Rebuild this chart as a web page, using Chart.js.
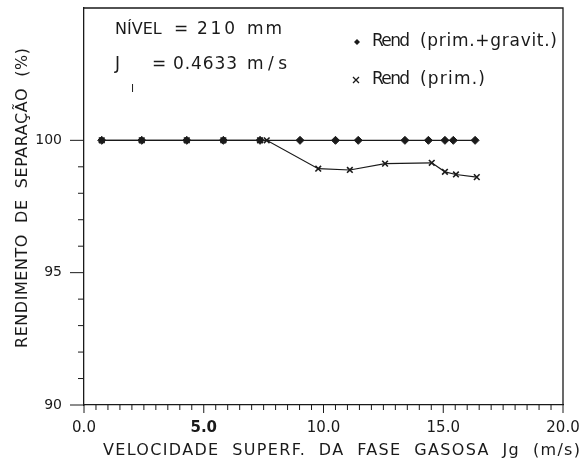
<!DOCTYPE html>
<html>
<head>
<meta charset="utf-8">
<script src="https://cdn.jsdelivr.net/npm/chart.js@4.4.1/dist/chart.umd.min.js"></script>
<style>
  html, body { margin: 0; padding: 0; background: #fff; }
  #wrap { width: 585px; height: 459px; }
</style>
</head>
<body>
<div id="wrap"><canvas id="myChart"></canvas></div>
<script>
const ctx = document.getElementById('myChart');

// Rend (prim.+gravit.)
const gravX = [0.74, 2.41, 4.29, 5.82, 7.35, 9.02, 10.5, 11.45, 13.4, 14.38, 15.07, 15.42, 16.33];
const gravY = [100, 100, 100, 100, 100, 100, 100, 100, 100, 100, 100, 100, 100];
// Rend (prim.)
const primX = [0.74, 2.41, 4.29, 5.82, 7.35, 7.63, 9.78, 11.1, 12.57, 14.52, 15.07, 15.53, 16.4];
const primY = [100, 100, 100, 100, 100, 100, 98.93, 98.88, 99.12, 99.15, 98.81, 98.71, 98.61];

const xTickLabels = [0, 5, 10, 15, 20];   // labelled x ticks
const yTickLabels = [90, 95, 100];        // labelled y ticks

const FONT = "'DejaVu Sans', Verdana, sans-serif";
const INK = '#1a1a1a';

function toPoints(xs, ys) {
  return xs.map((x, i) => ({ x: x, y: ys[i] }));
}

// text spread out to a given width, like the plotter lettering
function spaced(c, str, x, y, width) {
  c.letterSpacing = '0px';
  const w = c.measureText(str).width;
  const sp = width ? (width - w) / (str.length - 1) : 0;
  c.letterSpacing = sp + 'px';
  c.fillText(str, x, y);
  c.letterSpacing = '0px';
}

const framePlugin = {
  id: 'frame',
  afterDraw(chart) {
    const c = chart.ctx;
    const a = chart.chartArea;
    const xs = chart.scales.x, ys = chart.scales.y;
    c.save();
    c.strokeStyle = INK;
    c.lineWidth = 1.3;
    // top and right side of the box
    c.beginPath();
    c.moveTo(a.left, a.top);
    c.lineTo(a.right, a.top);
    c.lineTo(a.right, a.bottom);
    c.stroke();

    // tick marks
    c.lineWidth = 1;
    c.beginPath();
    ys.ticks.forEach(t => {
      if (t.value > 100) return;
      const py = ys.getPixelForValue(t.value);
      const len = t.value % 5 === 0 ? 14 : 6;
      c.moveTo(a.left - len, py);
      c.lineTo(a.left, py);
    });
    xs.ticks.forEach(t => {
      const px = xs.getPixelForValue(t.value);
      const len = t.value % 5 === 0 ? 8 : 5;
      c.moveTo(px, a.bottom);
      c.lineTo(px, a.bottom + len);
    });
    c.stroke();

    // texts
    c.fillStyle = INK;
    c.textBaseline = 'middle';
    c.textAlign = 'left';
    c.font = '16px ' + FONT;
    c.fillText('NÍVEL', 115, 30);
    c.font = '17px ' + FONT;
    c.fillText('=', 174, 30);
    spaced(c, '210', 197, 30, 38);
    spaced(c, 'mm', 247, 30, 35);
    c.fillText('J', 115, 65);
    c.fillText('=', 152, 65);
    spaced(c, '0.4633', 173, 65, 64);
    spaced(c, 'm/s', 247, 65, 40);
    c.font = '11px ' + FONT;
    c.fillText('l', 131, 89);

    c.font = '17px ' + FONT;
    spaced(c, 'Rend', 372, 42, 38);
    spaced(c, '(prim.+gravit.)', 420, 42, 137);
    spaced(c, 'Rend', 372, 80, 38);
    spaced(c, '(prim.)', 420, 80, 65);
    // legend markers
    c.beginPath();
    c.moveTo(357, 39); c.lineTo(360, 42); c.lineTo(357, 45); c.lineTo(354, 42);
    c.closePath();
    c.fill();
    c.lineWidth = 1.3;
    c.beginPath();
    c.moveTo(353, 77); c.lineTo(359, 83);
    c.moveTo(359, 77); c.lineTo(353, 83);
    c.stroke();

    // axis titles
    c.font = '16px ' + FONT;
    spaced(c, 'VELOCIDADE  SUPERF.  DA  FASE  GASOSA  Jg  (m/s)', 103, 451, 477);
    c.save();
    c.translate(23, 348);
    c.rotate(-Math.PI / 2);
    spaced(c, 'RENDIMENTO  DE  SEPARAÇÃO  (%)', 0, 0, 300);
    c.restore();
    c.restore();
  }
};

new Chart(ctx, {
  type: 'scatter',
  data: {
    datasets: [
      {
        label: 'Rend (prim.+gravit.)',
        data: toPoints(gravX, gravY),
        showLine: true,
        borderColor: INK,
        backgroundColor: INK,
        borderWidth: 1.2,
        pointStyle: 'rectRot',
        pointRadius: 4,
        pointBorderWidth: 1
      },
      {
        label: 'Rend (prim.)',
        data: toPoints(primX, primY),
        showLine: true,
        borderColor: INK,
        backgroundColor: INK,
        borderWidth: 1.2,
        pointStyle: 'crossRot',
        pointRadius: 4,
        pointBorderWidth: 1.6
      }
    ]
  },
  options: {
    responsive: true,
    maintainAspectRatio: false,
    animation: false,
    layout: { padding: { top: 8, right: 22, left: 0, bottom: 0 } },
    plugins: {
      legend: { display: false },
      tooltip: { enabled: false }
    },
    scales: {
      x: {
        type: 'linear',
        min: 0,
        max: 20,
        grid: { display: false, drawTicks: false, tickLength: 0 },
        border: { display: true, color: INK, width: 1.3 },
        afterFit: s => { s.height = 54; s.paddingLeft = 0; s.paddingRight = 0; },
        ticks: {
          stepSize: 0.5,
          autoSkip: false,
          maxRotation: 0,
          padding: 14,
          color: INK,
          font: c => ({ family: FONT, size: 15, weight: (c.tick && c.tick.value === 5) ? 'bold' : 'normal' }),
          callback: v => xTickLabels.includes(v) ? v.toFixed(1) : ''
        }
      },
      y: {
        min: 90,
        max: 105,
        grid: { display: false, drawTicks: false, tickLength: 0 },
        border: { display: true, color: INK, width: 1.3 },
        afterFit: s => { s.width = 84; s.paddingTop = 0; s.paddingBottom = 0; },
        ticks: {
          stepSize: 1,
          autoSkip: false,
          padding: 22,
          color: INK,
          font: { family: FONT, size: 14 },
          callback: v => yTickLabels.includes(v) ? String(v) : ''
        }
      }
    }
  },
  plugins: [framePlugin]
});
</script>
</body>
</html>
